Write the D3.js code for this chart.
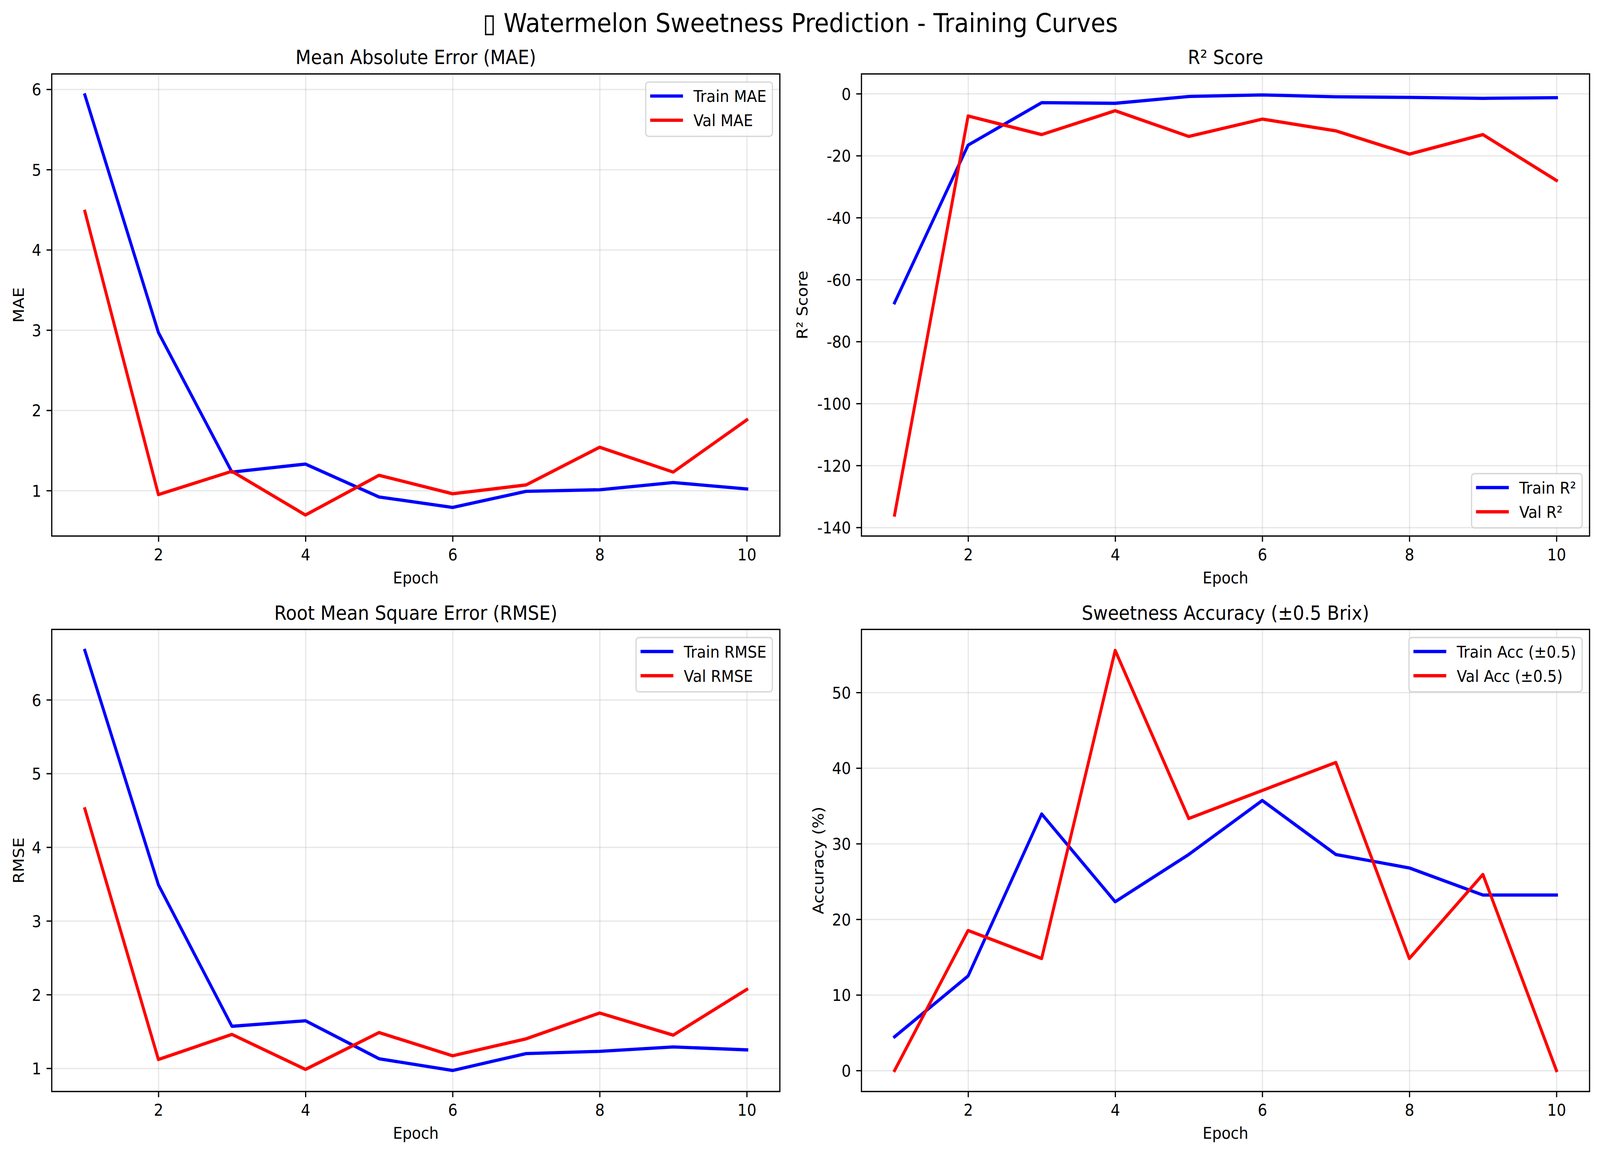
<!DOCTYPE html>
<html>
<head>
<meta charset="utf-8">
<script src="https://d3js.org/d3.v7.min.js"></script>
<style>
  html, body { margin: 0; background: #fff; overflow: hidden; }
  text { font-family: "DejaVu Sans"; fill: #000; text-rendering: geometricPrecision; }
</style>
</head>
<body>
<div id="output"></div>
<script>
// Values
const epochs = [1, 2, 3, 4, 5, 6, 7, 8, 9, 10];
const epochTicks = [2, 4, 6, 8, 10];

const trainMae = [5.93, 2.97, 1.23, 1.33, 0.92, 0.79, 0.99, 1.01, 1.10, 1.02];
const valMae = [4.48, 0.95, 1.24, 0.695, 1.19, 0.96, 1.07, 1.54, 1.23, 1.88];
const maeTicks = [1, 2, 3, 4, 5, 6];

const trainR2 = [-67.5, -16.6, -2.9, -3.1, -0.9, -0.4, -1.0, -1.2, -1.5, -1.3];
const valR2 = [-136, -7.2, -13.2, -5.5, -13.8, -8.2, -12, -19.5, -13.2, -28];
const r2Ticks = [-140, -120, -100, -80, -60, -40, -20, 0];

const trainRmse = [6.67, 3.49, 1.57, 1.645, 1.13, 0.97, 1.20, 1.23, 1.29, 1.25];
const valRmse = [4.52, 1.12, 1.46, 0.985, 1.485, 1.17, 1.40, 1.75, 1.45, 2.07];
const rmseTicks = [1, 2, 3, 4, 5, 6];

const trainAcc = [4.46, 12.5, 33.93, 22.32, 28.57, 35.71, 28.57, 26.79, 23.21, 23.21];
const valAcc = [0, 18.52, 14.81, 55.56, 33.33, 37.04, 40.74, 14.81, 25.93, 0];
const accTicks = [0, 10, 20, 30, 40, 50];

// the reference shows a missing-glyph box in front of the title
const suptitle = "\u25AF Watermelon Sweetness Prediction - Training Curves";

const panels = [
  {title: "Mean Absolute Error (MAE)", ylabel: "MAE", train: trainMae, val: valMae, ticks: maeTicks,
   trainName: "Train MAE", valName: "Val MAE", col: 0, row: 0, legend: "top"},
  {title: "R\u00B2 Score", ylabel: "R\u00B2 Score", train: trainR2, val: valR2, ticks: r2Ticks,
   trainName: "Train R\u00B2", valName: "Val R\u00B2", col: 1, row: 0, legend: "bottom"},
  {title: "Root Mean Square Error (RMSE)", ylabel: "RMSE", train: trainRmse, val: valRmse, ticks: rmseTicks,
   trainName: "Train RMSE", valName: "Val RMSE", col: 0, row: 1, legend: "top"},
  {title: "Sweetness Accuracy (\u00B10.5 Brix)", ylabel: "Accuracy (%)", train: trainAcc, val: valAcc, ticks: accTicks,
   trainName: "Train Acc (\u00B10.5)", valName: "Val Acc (\u00B10.5)", col: 1, row: 1, legend: "top"}
];

// Figure layout, in pixels at 300 dpi (1pt = 4.1667px)
const fig = {width: 4470, height: 2955};
const colLeft = [144.6, 2406.7];
const rowTop = [189.3, 1611.7];
const axW = 2034.1;
const axH = 1183.3;
const pt = 300 / 72;
const fontSize = 10 * pt;

function pad5(extent) {
  const m = (extent[1] - extent[0]) * 0.05;
  return [extent[0] - m, extent[1] + m];
}

function PlotPanel(svg, p) {
  const g = svg.append("g")
    .attr("transform", `translate(${colLeft[p.col]},${rowTop[p.row]})`);

  const x = d3.scaleLinear().domain(pad5(d3.extent(epochs))).range([0, axW]);
  const y = d3.scaleLinear().domain(pad5(d3.extent(p.train.concat(p.val)))).range([axH, 0]);

  // Grid first, it sits under the lines
  const gridX = g.append("g")
    .attr("transform", `translate(0,${axH})`)
    .call(d3.axisBottom(x).tickValues(epochTicks).tickSize(-axH).tickFormat(""));
  const gridY = g.append("g")
    .call(d3.axisLeft(y).tickValues(p.ticks).tickSize(-axW).tickFormat(""));
  [gridX, gridY].forEach(a => {
    a.select(".domain").remove();
    a.selectAll("line")
      .attr("stroke", "#b0b0b0")
      .attr("stroke-opacity", 0.3)
      .attr("stroke-width", 0.8 * pt);
  });

  const line = d3.line()
    .x((d, i) => x(epochs[i]))
    .y(d => y(d));

  [[p.train, "#0000ff"], [p.val, "#ff0000"]].forEach(([values, color]) => {
    g.append("path")
      .datum(values)
      .attr("d", line)
      .attr("fill", "none")
      .attr("stroke", color)
      .attr("stroke-width", 2 * pt)
      .attr("stroke-linecap", "square")
      .attr("stroke-linejoin", "round");
  });

  // Tick marks and labels
  const axisX = g.append("g")
    .attr("transform", `translate(0,${axH})`)
    .call(d3.axisBottom(x).tickValues(epochTicks).tickSize(3.5 * pt).tickFormat(d => String(d)));
  const axisY = g.append("g")
    .call(d3.axisLeft(y).tickValues(p.ticks).tickSize(3.5 * pt).tickPadding(3.5 * pt).tickFormat(d => String(d)));
  [axisX, axisY].forEach(a => {
    a.attr("font-family", null).attr("font-size", null);
    a.select(".domain").remove();
    a.selectAll("line").attr("stroke", "#000").attr("stroke-width", 0.8 * pt);
    a.selectAll("text").style("font-size", fontSize + "px");
  });
  axisX.selectAll("text").attr("y", 62).attr("dy", 0);
  axisY.selectAll("text").attr("dy", "0.365em");

  // Spines sit above the lines
  g.append("rect")
    .attr("width", axW)
    .attr("height", axH)
    .attr("fill", "none")
    .attr("stroke", "#000")
    .attr("stroke-width", 0.8 * pt);

  g.append("text")
    .attr("x", axW / 2)
    .attr("y", -6 * pt)
    .attr("text-anchor", "middle")
    .style("font-size", 12 * pt + "px")
    .text(p.title);

  g.append("text")
    .attr("x", axW / 2)
    .attr("y", axH + 121)
    .attr("text-anchor", "middle")
    .style("font-size", fontSize + "px")
    .text("Epoch");

  // y label goes just left of the widest tick label
  let maxTick = 0;
  axisY.selectAll("text").each(function() {
    maxTick = Math.max(maxTick, this.getComputedTextLength());
  });
  const labelX = -(50 + 1.068 * maxTick);
  g.append("text")
    .attr("transform", `translate(${labelX},${axH / 2}) rotate(-90)`)
    .attr("text-anchor", "middle")
    .style("font-size", fontSize + "px")
    .text(p.ylabel);

  DrawLegend(g, p);
}

function DrawLegend(g, p) {
  const names = [p.trainName, p.valName];
  const colors = ["#0000ff", "#ff0000"];
  const inset = 0.5 * fontSize;
  const box = g.append("g");
  const rect = box.append("rect");

  const labels = names.map((name, i) => box.append("text")
    .attr("x", 0.4 * fontSize + 2 * fontSize + 0.8 * fontSize)
    .attr("y", 51 + i * 62)
    .style("font-size", fontSize + "px")
    .text(name));
  const textW = d3.max(labels, t => t.node().getComputedTextLength());
  const w = 3.2 * fontSize + textW + 0.4 * fontSize;
  const h = 139;

  rect.attr("width", w)
    .attr("height", h)
    .attr("rx", 0.2 * fontSize)
    .attr("fill", "#fff")
    .attr("fill-opacity", 0.8)
    .attr("stroke", "#ccc")
    .attr("stroke-opacity", 0.8)
    .attr("stroke-width", 0.8 * pt);

  colors.forEach((color, i) => {
    box.append("line")
      .attr("x1", 0.4 * fontSize)
      .attr("x2", 2.4 * fontSize)
      .attr("y1", 35.7 + i * 62)
      .attr("y2", 35.7 + i * 62)
      .attr("stroke", color)
      .attr("stroke-width", 2 * pt)
      .attr("stroke-linecap", "square");
  });

  const top = p.legend === "top" ? inset : axH - inset - h;
  box.attr("transform", `translate(${axW - inset - w},${top})`);
}

// The browser window can come out narrower than the figure, so fit the figure to it
const svg = d3.select("#output").append("svg")
  .attr("viewBox", `0 0 ${fig.width} ${fig.height}`)
  .attr("preserveAspectRatio", "none")
  .style("width", "100vw")
  .style("height", "100vh")
  .style("display", "block");

svg.append("rect")
  .attr("width", fig.width)
  .attr("height", fig.height)
  .attr("fill", "#fff");

svg.append("text")
  .attr("x", 2236)
  .attr("y", 82)
  .attr("text-anchor", "middle")
  .style("font-size", 16 * pt + "px")
  .text(suptitle);

panels.forEach(p => PlotPanel(svg, p));
</script>
</body>
</html>
